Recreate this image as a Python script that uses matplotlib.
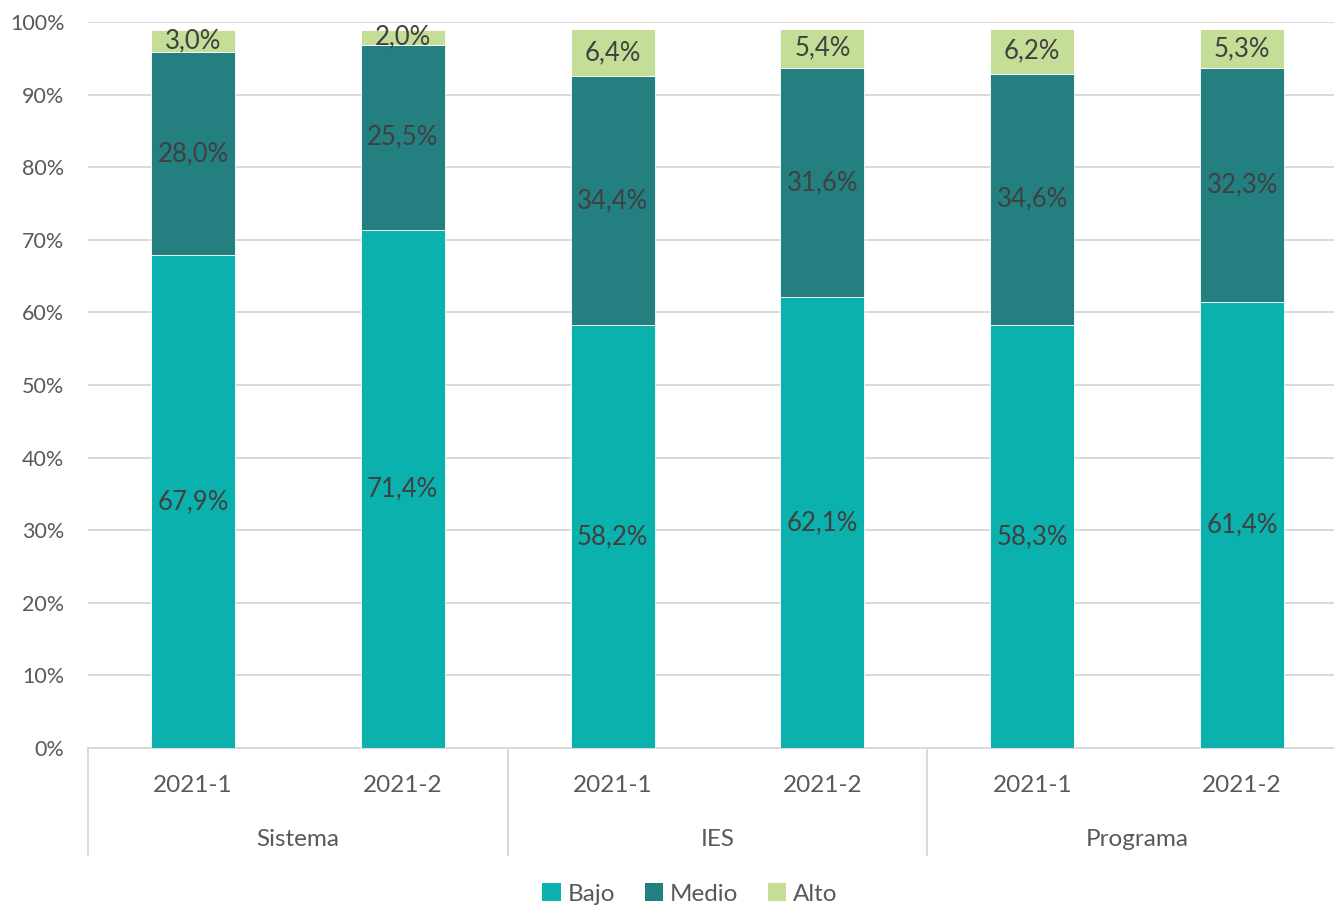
import matplotlib
matplotlib.use("Agg")
import matplotlib.pyplot as plt
from matplotlib.patches import Patch
import matplotlib.transforms as mtransforms

plt.rcParams['font.family'] = ['Lato', 'DejaVu Sans']

groups = ["Sistema", "IES", "Programa"]
periods = ["2021-1", "2021-2", "2021-1", "2021-2", "2021-1", "2021-2"]
bajo = [67.9, 71.4, 58.2, 62.1, 58.3, 61.4]
medio = [28.0, 25.5, 34.4, 31.6, 34.6, 32.3]
alto = [3.0, 2.0, 6.4, 5.4, 6.2, 5.3]
series = [("Bajo", bajo, "#0BB1AD"), ("Medio", medio, "#237F80"), ("Alto", alto, "#C5DE97")]

fig = plt.figure(figsize=(13.34, 9.06), dpi=100)
W, H = 1334, 906
left, right, top, bottom = 88, 1347, 22, 748
ax = fig.add_axes([left / W, 1 - bottom / H, (right - left) / W, (bottom - top) / H])

x = list(range(len(periods)))
base = [0.0] * len(periods)
for name, vals, col in series:
    ax.bar(x, vals, bottom=base, width=0.4, color=col, edgecolor="white", linewidth=0.6, zorder=3)
    for i, v in enumerate(vals):
        ax.text(i, base[i] + v / 2, f"{v:.1f}%".replace(".", ","), ha="center", va="center",
                fontsize=18.5, color="#404040", zorder=4)
    base = [b + v for b, v in zip(base, vals)]

ax.set_xlim(-0.5, len(periods) - 0.5)
ax.set_ylim(0, 100)
ax.set_yticks(range(0, 101, 10))
ax.set_yticklabels([f"{t}%" for t in range(0, 101, 10)], fontsize=15.5, color="#595959")
ax.yaxis.grid(True, color="#D9D9D9", linewidth=1.4, zorder=0)
ax.set_axisbelow(True)
ax.tick_params(axis="y", length=0, pad=17)
ax.tick_params(axis="x", length=0)
ax.set_xticks([])
for s in ["left", "right", "top"]:
    ax.spines[s].set_visible(False)
ax.spines["bottom"].set_color("#D9D9D9")
ax.spines["bottom"].set_linewidth(1.4)

trans = mtransforms.blended_transform_factory(ax.transData, ax.transAxes)
ax_h = bottom - top
def yfrac(py):
    return -(py - bottom) / ax_h

for i, p in enumerate(periods):
    ax.text(i, yfrac(786), p, transform=trans, ha="center", va="center", fontsize=17.5, color="#595959")
for g, name in enumerate(groups):
    ax.text(2 * g + 0.5, yfrac(840), name, transform=trans, ha="center", va="center", fontsize=17.5, color="#595959")
for sep in [-0.5, 1.5, 3.5, 5.5]:
    ax.plot([sep, sep], [0, yfrac(855)], transform=trans, color="#D9D9D9", linewidth=1.4, clip_on=False)

handles = [Patch(facecolor=c, edgecolor="none", label=n) for n, _, c in series]
fig.legend(handles=handles, loc="center", bbox_to_anchor=(690 / W, 1 - 894 / H), ncol=3, frameon=False,
           fontsize=17.5, handlelength=0.75, handleheight=0.75, handletextpad=0.3, columnspacing=1.2,
           labelcolor="#595959")

fig.savefig("out.png", dpi=100)
